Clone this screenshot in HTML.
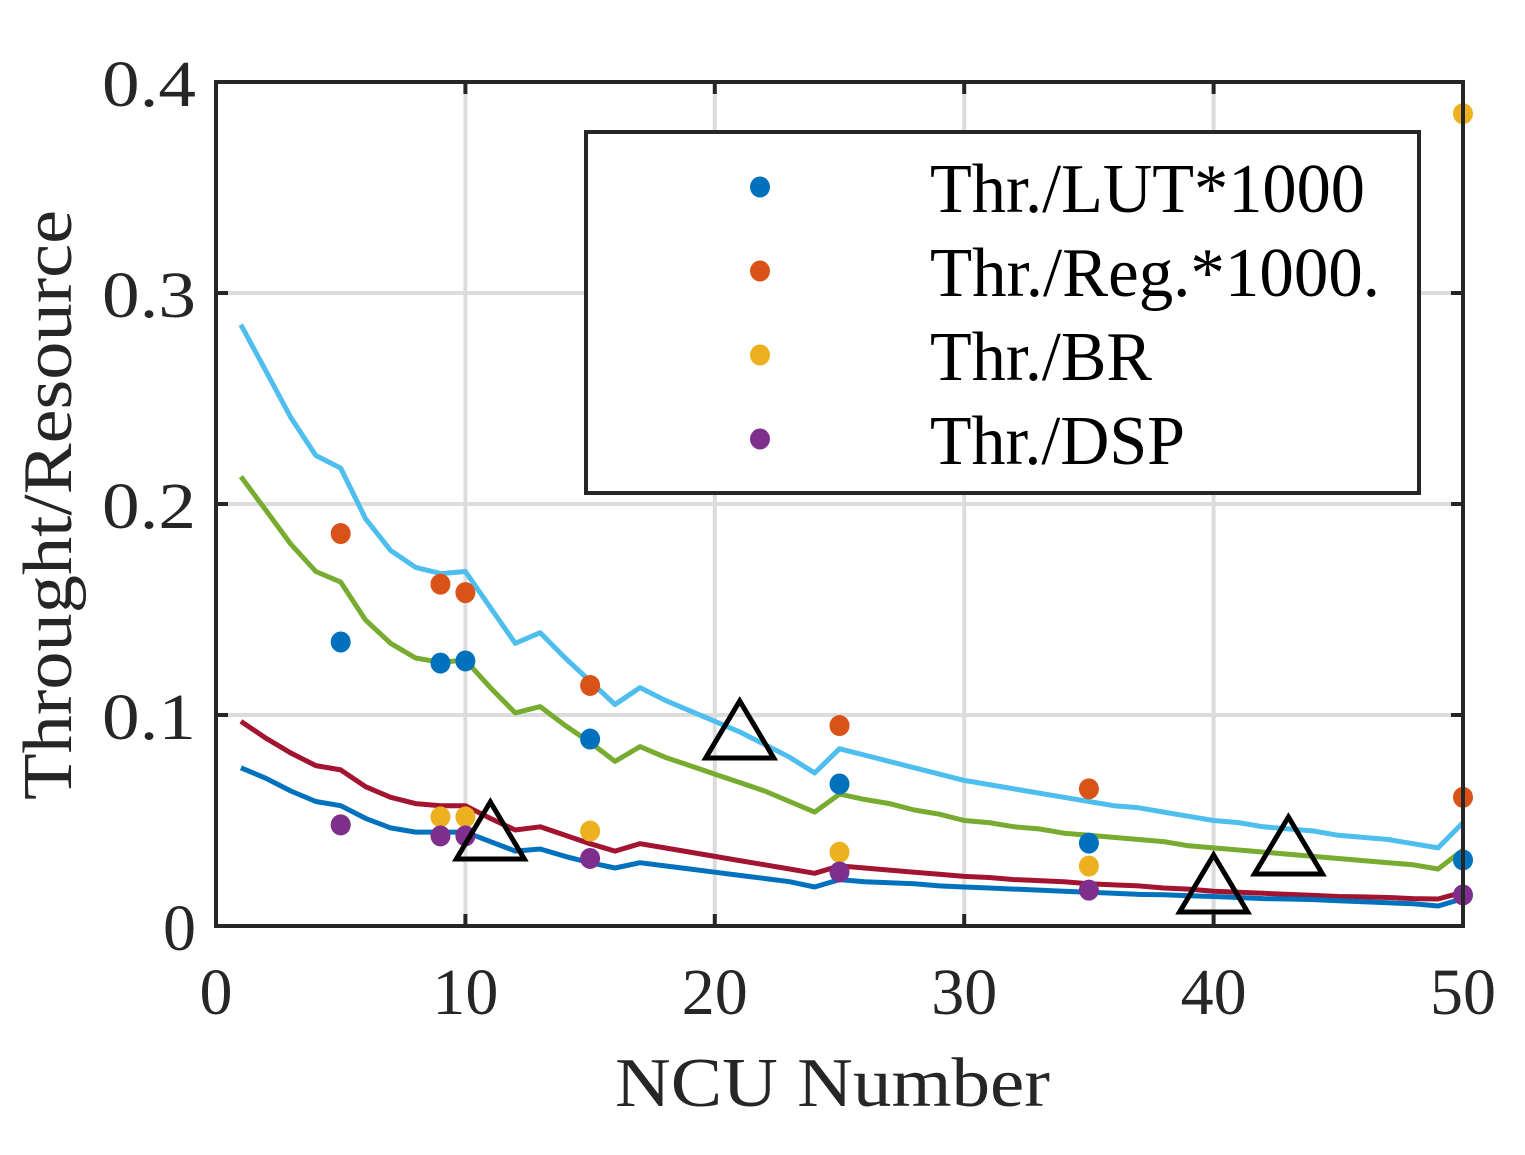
<!DOCTYPE html>
<html><head><meta charset="utf-8"><style>
html,body{margin:0;padding:0;background:#fff;}
svg text{font-family:"Liberation Serif",serif;fill:#262626;}
</style></head><body>
<svg id="chart" width="1525" height="1150" viewBox="0 0 1525 1150" xmlns="http://www.w3.org/2000/svg">
<rect width="1525" height="1150" fill="#fff"/>
<g id="grid"></g>
<g id="series"></g>
<g id="frame"></g>
<g id="legend"></g>
</svg>
<script>
const xLine = [];
for (let i = 1; i <= 50; i++) xLine.push(i);
const lightBlue = [.285,.263,.241,.223,.217,.193,.178,.170,.167,.168,.151,.134,.139,.127,.116,.105,.113,.107,.102,.097,.092,.086,.080,.0725,.084,.081,.078,.075,.072,.069,.067,.065,.063,.061,.059,.057,.056,.054,.052,.050,.049,.047,.046,.045,.043,.042,.041,.039,.037,.049];
const green = [.213,.197,.181,.168,.163,.145,.134,.127,.125,.126,.113,.101,.104,.095,.087,.078,.085,.080,.076,.072,.068,.064,.059,.054,.0625,.060,.058,.055,.053,.050,.049,.047,.046,.044,.043,.042,.041,.040,.038,.037,.036,.035,.034,.033,.032,.031,.030,.029,.027,.036];
const red = [.097,.089,.082,.076,.074,.066,.061,.058,.057,.057,.051,.0455,.047,.043,.039,.0355,.039,.037,.035,.033,.031,.029,.027,.025,.0285,.0275,.0265,.0255,.0245,.0235,.023,.022,.0215,.021,.020,.0195,.019,.018,.0175,.0165,.016,.0155,.015,.0145,.014,.0138,.0135,.013,.0128,.016];
const blue = [.075,.070,.064,.059,.057,.051,.0465,.0445,.0445,.0445,.040,.0355,.0365,.033,.030,.0275,.030,.0285,.027,.0255,.024,.0225,.021,.0185,.022,.021,.0205,.020,.019,.0185,.018,.0175,.017,.0165,.016,.0155,.015,.0148,.0143,.014,.0135,.013,.0128,.0125,.012,.0115,.011,.0105,.0095,.013];
const xPts = [5,9,10,15,25,35,50];
const lutPts = [.1346,.1246,.1256,.0886,.0673,.0393,.0313];
const regPts = [.186,.162,.158,.114,.095,.065,.061];
const brPts = [.048,.0517,.0517,.045,.035,.0284,.385];
const dspPts = [.0479,.0427,.0427,.032,.0256,.017,.0147];
const triX = [11,21,40,43];
const triY = [.0417,.0896,.0166,.0346];
const xTicks = [0,10,20,30,40,50];
const yTicks = [0,0.1,0.2,0.3,0.4];
const yTickLabels = ["0","0.1","0.2","0.3","0.4"];
const legendLabels = ["Thr./LUT*1000","Thr./Reg.*1000.","Thr./BR","Thr./DSP"];

const L=216,R=1463,T=82,B=926;
const sx = v => L + v/50*(R-L);
const sy = v => B - v/0.4*(B-T);
const NS="http://www.w3.org/2000/svg";
function mk(tag, parent, attrs){const e=document.createElementNS(NS,tag);for(const k in attrs)e.setAttribute(k,attrs[k]);parent.appendChild(e);return e;}
const grid=document.getElementById('grid'), ser=document.getElementById('series'), frame=document.getElementById('frame'), leg=document.getElementById('legend');

xTicks.forEach(t=>{ if(t>0&&t<50){const g=mk('line',grid,{x1:sx(t),x2:sx(t),y1:T,y2:B,stroke:'#dcdcdc','stroke-width':4});

}});
yTicks.forEach(t=>{ if(t>0&&t<0.4){const g=mk('line',grid,{x1:L,x2:R,y1:sy(t),y2:sy(t),stroke:'#dcdcdc','stroke-width':4});

}});

function line(vals,color,name){
  const d=vals.map((v,i)=>(i?'L':'M')+sx(xLine[i]).toFixed(1)+' '+sy(v).toFixed(1)).join(' ');
  const p=mk('path',ser,{d:d,fill:'none',stroke:color,'stroke-width':5,'stroke-linejoin':'round'});
  
  
}
line(lightBlue,'#4dbeee','line-light-blue');
line(green,'#77ac30','line-green');
line(red,'#a2142f','line-red');
line(blue,'#0072bd','line-blue');

function dots(vals,color,name){
  vals.forEach((v,i)=>{const c=mk('ellipse',ser,{cx:sx(xPts[i]),cy:sy(v),rx:10,ry:10.5,fill:color});
  
  });
}
dots(lutPts,'#0072bd','point-lut');
dots(regPts,'#d95319','point-reg');
dots(brPts,'#edb120','point-br');
dots(dspPts,'#7e2f8e','point-dsp');

triX.forEach((x,i)=>{const cx=sx(x),cy=sy(triY[i]);
  const p=mk('polygon',ser,{points:`${cx},${cy-36} ${cx-34},${cy+21} ${cx+34},${cy+21}`,fill:'none',stroke:'#000','stroke-width':5});
  
  });

const box=mk('rect',frame,{x:L,y:T,width:R-L,height:B-T,fill:'none',stroke:'#262626','stroke-width':4});


xTicks.forEach(t=>{const x=sx(t);
  mk('line',frame,{x1:x,x2:x,y1:B,y2:B-12,stroke:'#262626','stroke-width':4});
  mk('line',frame,{x1:x,x2:x,y1:T,y2:T+12,stroke:'#262626','stroke-width':4});
  const tx=mk('text',frame,{x:x,y:1014,'text-anchor':'middle','font-size':66});
  tx.textContent=t;
  
  });
yTicks.forEach((t,i)=>{const y=sy(t);
  mk('line',frame,{x1:L,x2:L+12,y1:y,y2:y,stroke:'#262626','stroke-width':4});
  mk('line',frame,{x1:R,x2:R-12,y1:y,y2:y,stroke:'#262626','stroke-width':4});
  const tx=mk('text',frame,{x:196,y:y+24,'text-anchor':'end','font-size':66});
  if(yTickLabels[i].length>1){tx.setAttribute('textLength',94);tx.setAttribute('lengthAdjust','spacingAndGlyphs');}
  tx.textContent=yTickLabels[i];
  
  });
const xl=mk('text',frame,{x:615,y:1106,'font-size':70,textLength:435,lengthAdjust:'spacingAndGlyphs'});
xl.textContent='NCU Number';


const yl=mk('text',frame,{x:0,y:0,'font-size':70,textLength:590,lengthAdjust:'spacingAndGlyphs',transform:'translate(71,800) rotate(-90)'});
yl.textContent='Throught/Resource';



const lb=mk('rect',leg,{x:586,y:132,width:833,height:361,fill:'#fff',stroke:'#262626','stroke-width':4});


const legColors=['#0072bd','#d95319','#edb120','#7e2f8e'];
const legWidths=[435,450,222,255];
legendLabels.forEach((s,i)=>{const y=187+i*84;
  const c=mk('ellipse',leg,{cx:760,cy:y,rx:10,ry:10.5,fill:legColors[i]});
  
  
  const t=mk('text',leg,{x:930,y:y+25,'font-size':70,textLength:legWidths[i],lengthAdjust:'spacingAndGlyphs',fill:'#000'});
  t.style.fill='#000';
  t.textContent=s;
  
  });
</script>
</body></html>
